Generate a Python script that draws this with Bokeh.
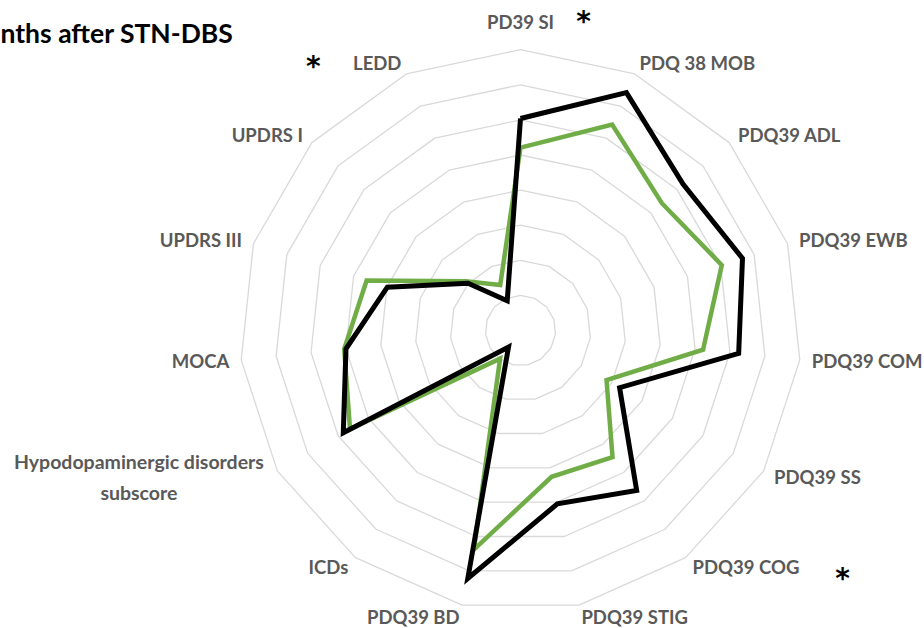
import numpy as np
from bokeh.plotting import figure
from bokeh.models import Range1d
from bokeh.embed import file_html
from bokeh.resources import INLINE
from bokeh.core.properties import value

# ---- data ----
categories = ["PD39 SI", "PDQ 38 MOB", "PDQ39 ADL", "PDQ39 EWB", "PDQ39 COM",
              "PDQ39 SS", "PDQ39 COG", "PDQ39 STIG", "PDQ39 BD", "ICDs",
              "Hypodopaminergic disorders\nsubscore", "MOCA", "UPDRS III",
              "UPDRS I", "LEDD"]
series_black = [6.04, 7.42, 6.23, 6.65, 6.25, 3.26, 5.63, 5.05, 7.22, 0.58,
                5.83, 5.00, 3.99, 2.01, 0.93]
series_green = [5.21, 6.42, 5.42, 6.03, 5.23, 2.83, 4.46, 4.26, 6.38, 0.99,
                5.61, 5.05, 4.61, 2.10, 1.42]
ring_levels = [1, 2, 3, 4, 5, 6, 7, 8]
starred = ["PD39 SI", "PDQ39 COG", "LEDD"]
title_text = "nths after STN-DBS"

# ---- layout ----
W, H = 924, 628
S = 35.1            # pixels per unit
CX, CY = 520, 330   # centre in frame pixels
n = len(categories)
theta = np.arange(n) * 2 * np.pi / n
sin_t, cos_t = np.sin(theta), np.cos(theta)

p = figure(width=W, height=H, output_backend="svg", toolbar_location=None,
           x_axis_type=None, y_axis_type=None, min_border=0,
           x_range=Range1d(-CX / S, (W - CX) / S),
           y_range=Range1d(-(H - CY) / S, CY / S))
p.grid.visible = False
p.outline_line_color = None
p.background_fill_color = "white"

# rings
rx = [list(r * sin_t) + [0.0] for r in ring_levels]
ry = [list(r * cos_t) + [r] for r in ring_levels]
p.multi_line(rx, ry, line_color="#D9D9D9", line_width=1.3)

def closed(vals):
    v = np.asarray(vals, dtype=float)
    xs = list(v * sin_t) + [v[0] * sin_t[0]]
    ys = list(v * cos_t) + [v[0] * cos_t[0]]
    return xs, ys

gx, gy = closed(series_green)
p.line(gx, gy, line_color="#70AD47", line_width=4.5, line_join="miter")
bx, by = closed(series_black)
p.line(bx, by, line_color="#000000", line_width=5, line_join="miter")

# category labels
r_lab = max(ring_levels) + 12 / S
font = value("Lato")
anchors = {}
for k, cat in enumerate(categories):
    ax, ay = r_lab * sin_t[k], r_lab * cos_t[k]
    anchors[cat] = (ax, ay)
    kw = dict(text_font=font, text_font_style="bold", text_color="#595959",
              text_font_size="18.5px", text_baseline="middle")
    if abs(sin_t[k]) < 1e-6:
        kw.update(text_align="center", text_baseline="alphabetic", y_offset=-16)
    elif "\n" in cat:
        kw.update(text_align="center", x_offset=-128, text_line_height=1.35,
                  text_font_size="19.5px")
    elif sin_t[k] > 0:
        kw.update(text_align="left")
    else:
        kw.update(text_align="right")
    p.text(x=[ax], y=[ay], text=[cat], **kw)

# significance asterisks
star_offsets = {"PD39 SI": (63, -16), "PDQ39 COG": (150, 11), "LEDD": (-88, 3)}
for cat in starred:
    ax, ay = anchors[cat]
    dx, dy = star_offsets[cat]
    p.text(x=[ax], y=[ay], text=["*"], text_font=value("DejaVu Sans"),
           text_font_style="bold", text_color="#000000", text_font_size="28px",
           text_align="center", text_baseline="middle", x_offset=dx, y_offset=dy)

# title (cropped in the reference)
p.text(x=[-CX / S], y=[(CY - 32) / S], text=[title_text], text_font=font,
       text_font_style="bold", text_color="#000000", text_font_size="26.5px",
       text_align="left", text_baseline="middle")

open("out.html", "w").write(file_html(p, INLINE))
